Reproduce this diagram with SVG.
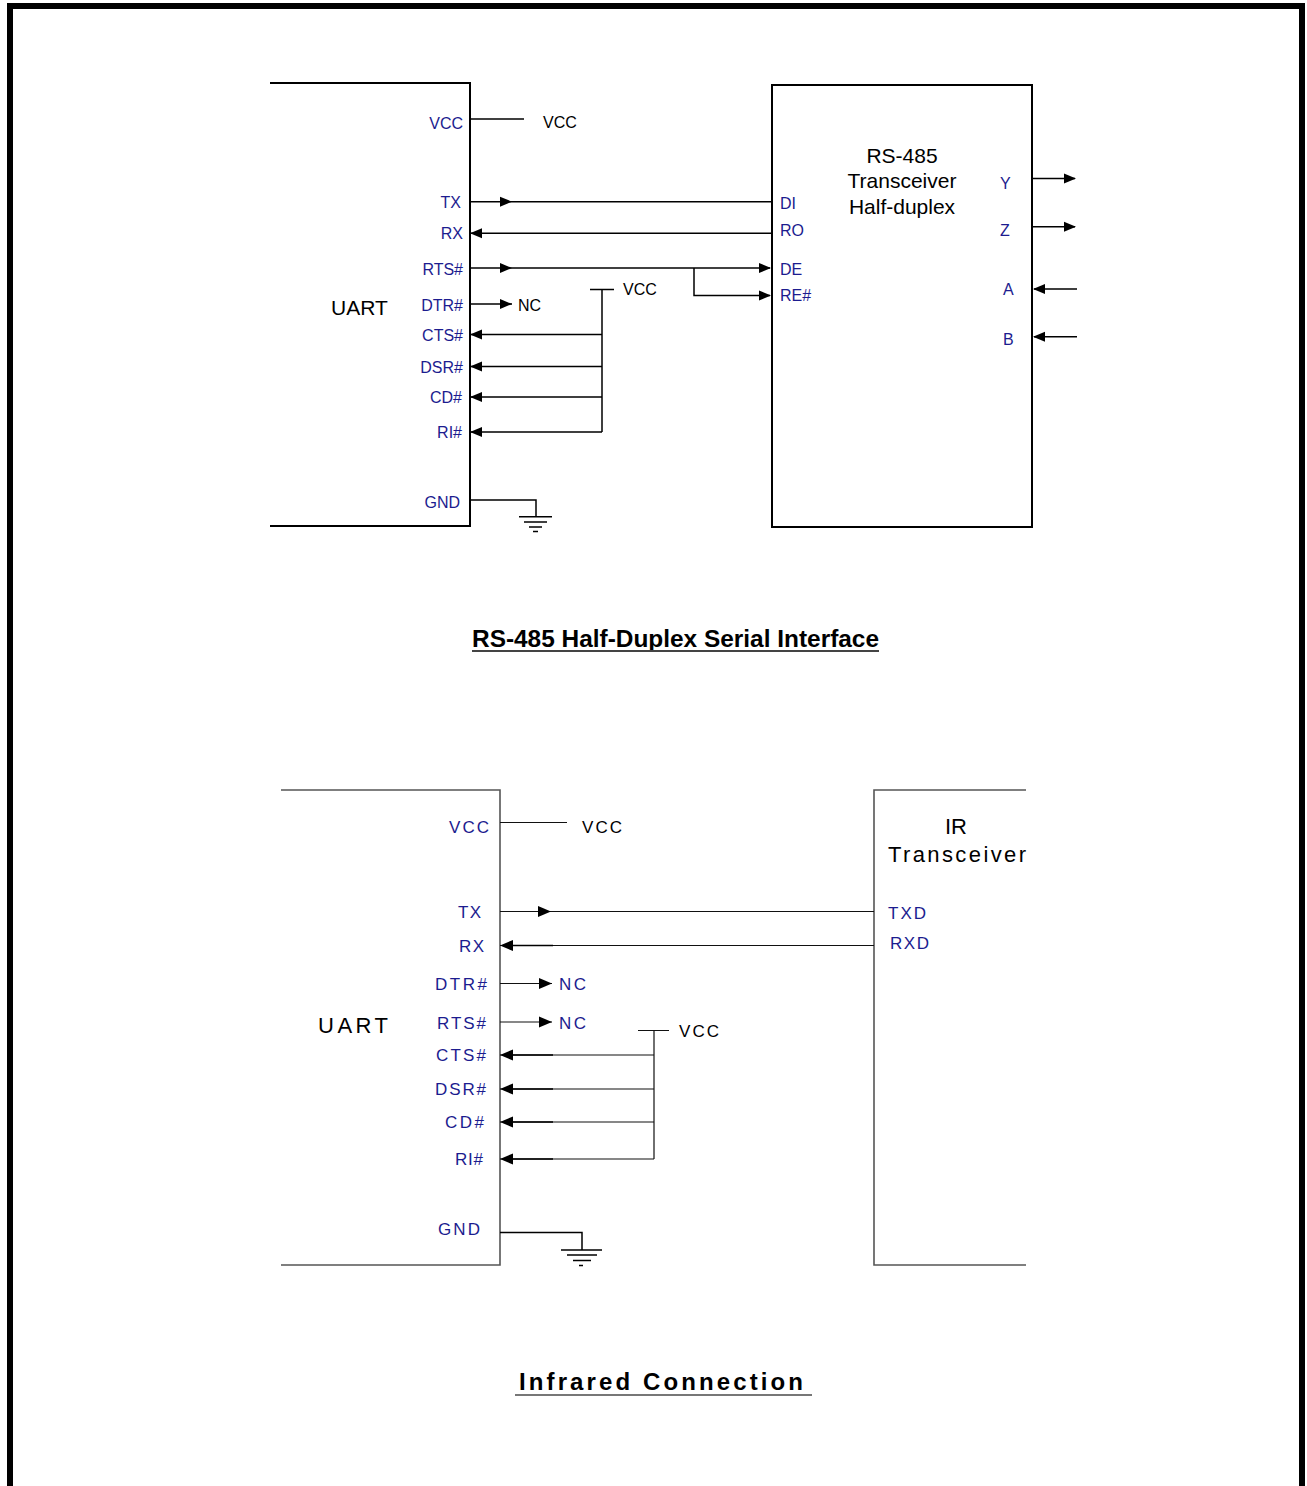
<svg xmlns="http://www.w3.org/2000/svg" xmlns:xlink="http://www.w3.org/1999/xlink" width="1307" height="1486" viewBox="0 0 1307 1486">
<defs>
<style>
.bg{fill:#fff}
.frame{fill:none;stroke:#000;stroke-width:6}
.box{fill:none;stroke:#000;stroke-width:2}
.box2{fill:none;stroke:#555;stroke-width:1.6}
.w{fill:none;stroke:#000;stroke-width:1.5}
.w2{fill:none;stroke:#111;stroke-width:1.2}
.pin{font-family:'Liberation Sans',Arial,sans-serif;font-size:16px;fill:#1c1c8f}
.pin2{font-family:'Liberation Sans',Arial,sans-serif;font-size:17px;fill:#1c1c8f}
.lbl{font-family:'Liberation Sans',Arial,sans-serif;font-size:16px;fill:#000}
.lbl2{font-family:'Liberation Sans',Arial,sans-serif;font-size:17px;fill:#000}
.big{font-family:'Liberation Sans',Arial,sans-serif;font-size:21px;fill:#000}
.big2{font-family:'Liberation Sans',Arial,sans-serif;font-size:22px;fill:#000}
.ttl{font-family:'Liberation Sans',Arial,sans-serif;font-weight:bold;fill:#000}
.ul{fill:none;stroke:#444;stroke-width:1.8}
.ul2{fill:none;stroke:#777;stroke-width:2}
.ah{fill:#000}
</style>
<path id="ar" class="ah" d="M0,0 L-12,-5 L-12,5 Z"/>
<path id="al" class="ah" d="M0,0 L12,-5 L12,5 Z"/>
<path id="ar2" class="ah" d="M0,0 L-13,-5.5 L-13,5.5 Z"/>
<path id="al2" class="ah" d="M0,0 L13,-5.5 L13,5.5 Z"/>
</defs>
<rect class="bg" x="0" y="0" width="1307" height="1486"/>
<path class="frame" d="M10,1490 V6 H1302 V1490"/>

<!-- ===== Top diagram ===== -->
<g id="uart1">
<path class="box" d="M270,83 H470 V526 H270"/>
<text class="big" x="331" y="315">UART</text>
<g class="pin" text-anchor="end">
<text x="463" y="128.5">VCC</text>
<text x="461" y="207.5">TX</text>
<text x="463" y="239">RX</text>
<text x="463" y="275">RTS#</text>
<text x="463" y="310.5">DTR#</text>
<text x="463" y="341">CTS#</text>
<text x="463" y="372.5">DSR#</text>
<text x="462" y="402.5">CD#</text>
<text x="462" y="437.5">RI#</text>
<text x="460" y="507.5">GND</text>
</g>
</g>

<g id="rs485">
<rect class="box" x="772" y="85" width="260" height="442"/>
<g class="big" text-anchor="middle">
<text x="902" y="162.5">RS-485</text>
<text x="902" y="188">Transceiver</text>
<text x="902" y="214">Half-duplex</text>
</g>
<g class="pin">
<text x="780" y="208.5">DI</text>
<text x="780" y="236">RO</text>
<text x="780" y="274.5">DE</text>
<text x="780" y="300.5">RE#</text>
<text x="1000" y="188.5">Y</text>
<text x="1000" y="236">Z</text>
<text x="1003" y="295">A</text>
<text x="1003" y="344.5">B</text>
</g>
</g>

<g id="connectors1">
<path class="w" d="M470,119 H524"/>
<text class="lbl" x="543" y="127.5">VCC</text>
<path class="w" d="M470,201.7 H772"/>
<use xlink:href="#ar" x="512" y="201.7"/>
<path class="w" d="M772,233.3 H470"/>
<use xlink:href="#al" x="470" y="233.3"/>
<path class="w" d="M470,268 H770"/>
<use xlink:href="#ar" x="512" y="268"/>
<use xlink:href="#ar" x="771" y="268"/>
<path class="w" d="M694,268 V295.5 H770"/>
<use xlink:href="#ar" x="771" y="295.5"/>
<path class="w" d="M470,304 H512"/>
<use xlink:href="#ar" x="512" y="304"/>
<text class="lbl" x="518" y="310.5">NC</text>
<path class="w" d="M590,289.5 H614 M602,289.5 V432"/>
<text class="lbl" x="623" y="295">VCC</text>
<path class="w" d="M602,334.5 H470 M602,366.5 H470 M602,397 H470 M602,432 H470"/>
<use xlink:href="#al" x="470" y="334.5"/>
<use xlink:href="#al" x="470" y="366.5"/>
<use xlink:href="#al" x="470" y="397"/>
<use xlink:href="#al" x="470" y="432"/>
<path class="w" d="M470,500 H536 V516.7"/>
<path class="w" d="M519,516.7 H552 M524,522 H547 M529,527 H542 M533,531.5 H538"/>
<path class="w" d="M1032,178.5 H1075 M1032,226.7 H1075"/>
<use xlink:href="#ar" x="1076" y="178.5"/>
<use xlink:href="#ar" x="1076" y="226.7"/>
<path class="w" d="M1077,289 H1034 M1077,336.7 H1034"/>
<use xlink:href="#al" x="1033" y="289"/>
<use xlink:href="#al" x="1033" y="336.7"/>
</g>

<g id="title1">
<text class="ttl" x="472" y="647" font-size="23.5" textLength="407" lengthAdjust="spacingAndGlyphs">RS-485 Half-Duplex Serial Interface</text>
<path class="ul" d="M472,651 H879"/>
</g>

<!-- ===== Bottom diagram ===== -->
<g id="uart2">
<path class="box2" d="M281,790 H500 V1265 H281"/>
<text class="big2" x="318" y="1033" textLength="70" lengthAdjust="spacing">UART</text>
<g class="pin2">
<text x="449" y="832.5" textLength="40" lengthAdjust="spacing">VCC</text>
<text x="458" y="918" textLength="23" lengthAdjust="spacing">TX</text>
<text x="459" y="951.5" textLength="25" lengthAdjust="spacing">RX</text>
<text x="435" y="990" textLength="52" lengthAdjust="spacing">DTR#</text>
<text x="437" y="1029" textLength="49" lengthAdjust="spacing">RTS#</text>
<text x="436" y="1061" textLength="50" lengthAdjust="spacing">CTS#</text>
<text x="435" y="1095" textLength="51" lengthAdjust="spacing">DSR#</text>
<text x="445" y="1127.5" textLength="39" lengthAdjust="spacing">CD#</text>
<text x="455" y="1165" textLength="28" lengthAdjust="spacing">RI#</text>
<text x="438" y="1235" textLength="42" lengthAdjust="spacing">GND</text>
</g>
</g>

<g id="ir">
<path class="box2" d="M1026,790 H874 V1265 H1026"/>
<text class="big2" x="945" y="834" textLength="22" lengthAdjust="spacing">IR</text>
<text class="big2" x="888" y="862" textLength="138" lengthAdjust="spacing">Transceiver</text>
<g class="pin2">
<text x="888" y="919" textLength="38" lengthAdjust="spacing">TXD</text>
<text x="890" y="949" textLength="39" lengthAdjust="spacing">RXD</text>
</g>
</g>

<g id="connectors2">
<path class="w2" d="M500,822.5 H567"/>
<text class="lbl2" x="582" y="832.5" textLength="40" lengthAdjust="spacing">VCC</text>
<path class="w2" d="M500,911.5 H874"/>
<use xlink:href="#ar2" x="551" y="911.5"/>
<path class="w2" d="M874,945.5 H500"/>
<path class="w" d="M553,945.5 H505"/>
<use xlink:href="#al2" x="500" y="945.5"/>
<path class="w2" d="M500,983.5 H552 M500,1022 H552"/>
<use xlink:href="#ar2" x="552" y="983.5"/>
<use xlink:href="#ar2" x="552" y="1022"/>
<text class="pin2" x="559" y="990" textLength="27" lengthAdjust="spacing">NC</text>
<text class="pin2" x="559" y="1029" textLength="27" lengthAdjust="spacing">NC</text>
<path class="w2" d="M638,1030.5 H669 M654,1030.5 V1159"/>
<text class="lbl2" x="679" y="1036.5" textLength="40" lengthAdjust="spacing">VCC</text>
<path class="w2" d="M654,1055 H500 M654,1089 H500 M654,1122 H500 M654,1159 H500"/>
<path class="w" d="M553,1055 H505 M553,1089 H505 M553,1122 H505 M553,1159 H505"/>
<use xlink:href="#al2" x="500" y="1055"/>
<use xlink:href="#al2" x="500" y="1089"/>
<use xlink:href="#al2" x="500" y="1122"/>
<use xlink:href="#al2" x="500" y="1159"/>
<path class="w" d="M500,1232.5 H582 V1250"/>
<path class="w" d="M561,1250 H602 M567,1255 H597 M573,1260.5 H591 M579,1265.5 H583"/>
</g>

<g id="title2">
<text class="ttl" x="519" y="1390" font-size="24" textLength="284" lengthAdjust="spacing">Infrared Connection</text>
<path class="ul2" d="M515,1395 H812"/>
</g>
</svg>
